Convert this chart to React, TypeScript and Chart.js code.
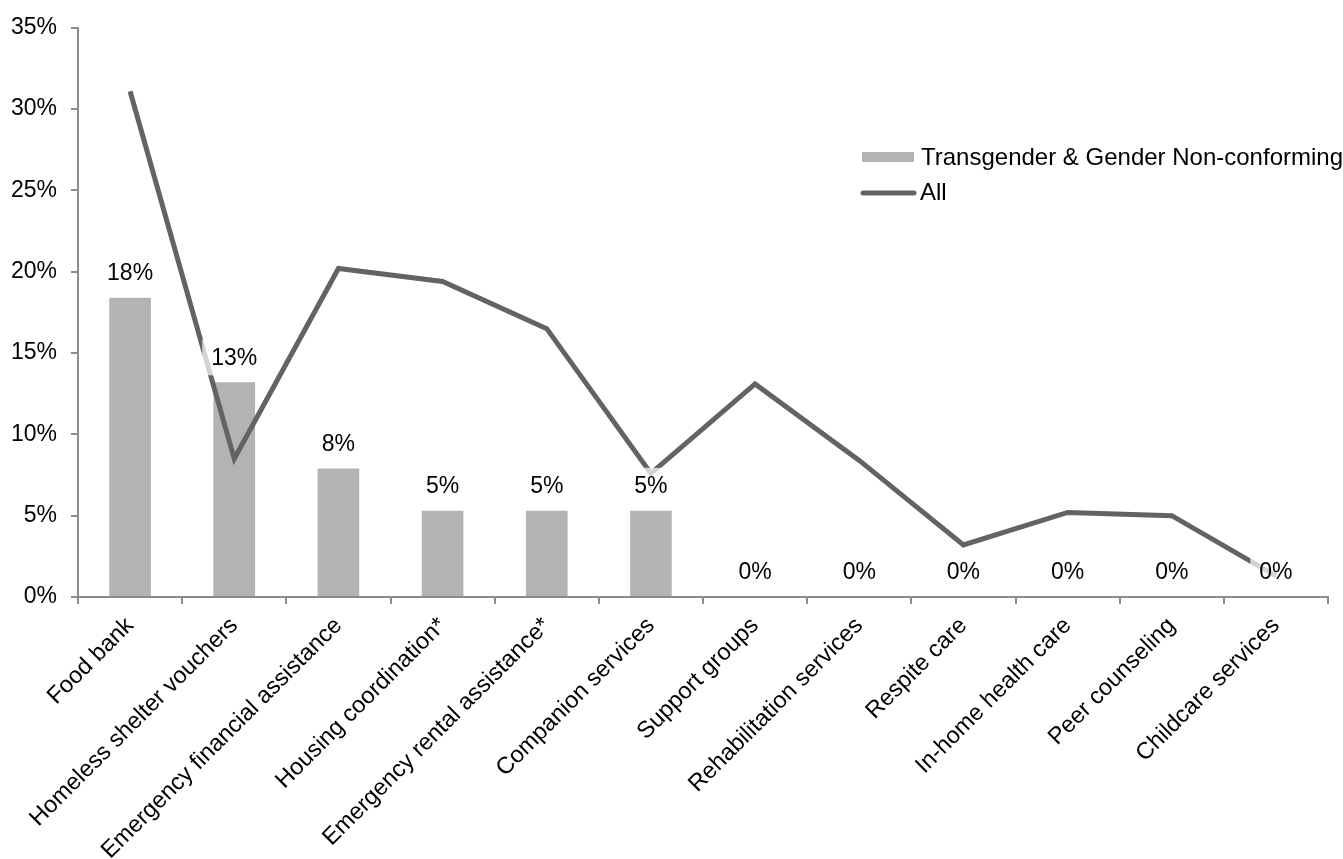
import React, { useEffect, useRef } from "react";
import { Chart, registerables } from "chart.js";

Chart.register(...registerables);

const categories = [
  "Food bank",
  "Homeless shelter vouchers",
  "Emergency financial assistance",
  "Housing coordination*",
  "Emergency rental assistance*",
  "Companion services",
  "Support groups",
  "Rehabilitation services",
  "Respite care",
  "In-home health care",
  "Peer counseling",
  "Childcare services",
];

const tgncValues = [18.4, 13.2, 7.9, 5.3, 5.3, 5.3, 0, 0, 0, 0, 0, 0];
const allValues = [31.1, 8.5, 20.2, 19.4, 16.5, 7.6, 13.1, 8.4, 3.2, 5.2, 5.0, 1.3];

const yTicks = [0, 5, 10, 15, 20, 25, 30, 35];

const seriesNames = ["Transgender & Gender Non-conforming", "All"];

const FONT = "'Liberation Sans', Arial, sans-serif";
const BAR_COLOR = "#b3b3b3";
const LINE_COLOR = "#636363";
const AXIS_COLOR = "#8c8c8c";

const labelPlugin = {
  id: "barLabels",
  afterDatasetsDraw(chart: any) {
    const ctx = chart.ctx;
    const meta = chart.getDatasetMeta(0);
    ctx.save();
    ctx.font = `23px ${FONT}`;
    ctx.textAlign = "center";
    ctx.textBaseline = "middle";
    meta.data.forEach((el: any, i: number) => {
      const txt = Math.round(tgncValues[i]) + "%";
      const cx = el.x;
      const cy = el.y - 25;
      const w = ctx.measureText(txt).width;
      ctx.fillStyle = "rgba(255,255,255,0.72)";
      ctx.fillRect(cx - w / 2 - 9, cy - 18, w + 18, 36);
      ctx.fillStyle = "#000";
      ctx.fillText(txt, cx, cy + 1);
    });
    ctx.restore();
  },
  afterDraw(chart: any) {
    const ctx = chart.ctx;
    ctx.save();
    ctx.fillStyle = BAR_COLOR;
    ctx.fillRect(862, 152, 52, 10);
    ctx.font = `24px ${FONT}`;
    ctx.textBaseline = "middle";
    ctx.textAlign = "left";
    ctx.fillStyle = "#000";
    ctx.fillText(seriesNames[0], 921, 158);
    ctx.strokeStyle = LINE_COLOR;
    ctx.lineWidth = 5;
    ctx.lineCap = "round";
    ctx.beginPath();
    ctx.moveTo(863, 193);
    ctx.lineTo(914, 193);
    ctx.stroke();
    ctx.fillText(seriesNames[1], 920, 193);
    ctx.restore();
  },
};

export default function App() {
  const ref = useRef<HTMLCanvasElement>(null);
  useEffect(() => {
    if (!ref.current) return;
    const chart = new Chart(ref.current, {
      type: "bar",
      data: {
        labels: categories,
        datasets: [
          {
            type: "bar",
            label: seriesNames[0],
            data: tgncValues,
            backgroundColor: BAR_COLOR,
            borderWidth: 0,
            barPercentage: 0.4,
            categoryPercentage: 1,
            order: 2,
          },
          {
            type: "line",
            label: seriesNames[1],
            data: allValues,
            borderColor: LINE_COLOR,
            borderWidth: 5,
            pointRadius: 0,
            tension: 0,
            order: 1,
          } as any,
        ],
      },
      options: {
        animation: false,
        responsive: false,
        maintainAspectRatio: false,
        layout: { padding: { top: 23, right: 15, left: 0, bottom: 0 } },
        plugins: {
          legend: { display: false },
          tooltip: { enabled: false },
        },
        scales: {
          x: {
            offset: true,
            grid: {
              display: true,
              offset: true,
              drawOnChartArea: false,
              drawTicks: true,
              tickLength: 7,
              color: AXIS_COLOR,
              lineWidth: 2,
            },
            border: { display: true, color: AXIS_COLOR, width: 2 },
            ticks: {
              minRotation: 45,
              maxRotation: 45,
              autoSkip: false,
              color: "#000",
              font: { family: FONT, size: 23.5 },
              padding: 8,
            },
            afterFit(scale: any) {
              scale.height = 262;
            },
          },
          y: {
            min: 0,
            max: 35,
            afterBuildTicks(scale: any) {
              scale.ticks = yTicks.map((v) => ({ value: v }));
            },
            grid: {
              display: true,
              drawOnChartArea: false,
              drawTicks: true,
              tickLength: 7,
              color: AXIS_COLOR,
              lineWidth: 2,
            },
            border: { display: true, color: AXIS_COLOR, width: 2 },
            ticks: {
              color: "#000",
              font: { family: FONT, size: 23 },
              padding: 14,
              callback: (v: any) => v + "%",
            },
            afterFit(scale: any) {
              scale.width = 78;
            },
          },
        },
      },
      plugins: [labelPlugin],
    });
    return () => chart.destroy();
  }, []);
  return (
    <div style={{ position: "fixed", left: 0, top: 0, width: 1343, height: 859, background: "#fff" }}>
      <canvas ref={ref} width={1343} height={859} style={{ display: "block" }} />
    </div>
  );
}
